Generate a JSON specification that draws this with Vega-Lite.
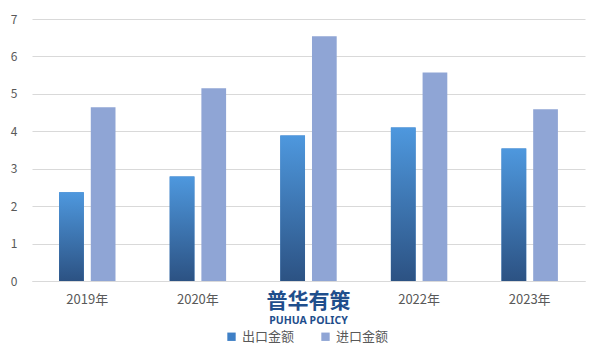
{
  "$schema": "https://vega.github.io/schema/vega-lite/v6.json",
  "autosize": {"type": "none"},
  "width": 553,
  "height": 262,
  "padding": {"left": 32, "top": 19, "right": 16, "bottom": 80},
  "background": "white",
  "datasets": {
    "trade": [
      {"year": "2019年", "series": "出口金额", "value": 2.37},
      {"year": "2019年", "series": "进口金额", "value": 4.64},
      {"year": "2020年", "series": "出口金额", "value": 2.79},
      {"year": "2020年", "series": "进口金额", "value": 5.15},
      {"year": "2021年", "series": "出口金额", "value": 3.89},
      {"year": "2021年", "series": "进口金额", "value": 6.54},
      {"year": "2022年", "series": "出口金额", "value": 4.10},
      {"year": "2022年", "series": "进口金额", "value": 5.57},
      {"year": "2023年", "series": "出口金额", "value": 3.54},
      {"year": "2023年", "series": "进口金额", "value": 4.59}
    ],
    "mark": [{"label": "watermark"}]
  },
  "config": {
    "view": {"stroke": null},
    "font": "Noto Sans CJK SC",
    "axis": {"labelFont": "Noto Sans CJK SC", "labelColor": "#595959", "labelFontSize": 12},
    "axisY": {"tickCount": 8, "labelOverlap": false}
  },
  "layer": [
    {
      "data": {"name": "trade"},
      "mark": {"type": "bar"},
      "encoding": {
        "x": {
          "field": "year", "type": "nominal", "sort": null,
          "scale": {"paddingInner": 0.49, "paddingOuter": 0.245},
          "axis": {
            "title": null, "labelAngle": 0, "ticks": false, "domainColor": "#D9D9D9",
            "labelPadding": 12, "labelFontSize": 13,
            "labelOpacity": {"condition": {"test": "datum.value === '2021年'", "value": 0}, "value": 1}
          }
        },
        "xOffset": {
          "field": "series", "type": "nominal", "sort": ["出口金额", "进口金额"],
          "scale": {"paddingInner": 0.22, "paddingOuter": 0}
        },
        "y": {
          "field": "value", "type": "quantitative",
          "scale": {"domain": [0, 7], "nice": false},
          "axis": {
            "title": null, "values": [0, 1, 2, 3, 4, 5, 6, 7], "tickCount": 8, "labelOverlap": false,
            "domain": false, "ticks": false, "gridColor": "#D9D9D9", "labelPadding": 15
          }
        },
        "color": {
          "field": "series", "type": "nominal",
          "scale": {"domain": ["出口金额", "进口金额"], "range": ["#3F80C6", "#8FA5D5"]},
          "legend": {
            "title": null, "orient": "none", "direction": "horizontal",
            "legendX": 193, "legendY": 311, "symbolType": "square", "symbolSize": 70,
            "labelFontSize": 13, "labelColor": "#595959", "labelFont": "Noto Sans CJK SC",
            "columnPadding": 24, "symbolStrokeWidth": 0
          }
        }
      }
    },
    {
      "data": {"name": "trade"},
      "transform": [{"filter": "datum.series === '出口金额'"}],
      "mark": {
        "type": "bar",
        "fill": {
          "gradient": "linear", "x1": 0, "y1": 0, "x2": 0, "y2": 1,
          "stops": [
            {"offset": 0, "color": "#4E98DE"},
            {"offset": 1, "color": "#2C5283"}
          ]
        }
      },
      "encoding": {
        "x": {"field": "year", "type": "nominal", "sort": null},
        "xOffset": {"field": "series", "type": "nominal", "sort": ["出口金额", "进口金额"]},
        "y": {
          "field": "value", "type": "quantitative",
          "axis": {
            "title": null, "values": [0, 1, 2, 3, 4, 5, 6, 7], "tickCount": 8, "labelOverlap": false,
            "domain": false, "ticks": false, "gridColor": "#D9D9D9", "labelPadding": 15
          }
        }
      }
    },
    {
      "data": {"name": "mark"},
      "mark": {"type": "text", "text": "普华有策", "fontSize": 21, "fontWeight": "bold", "color": "#1F4E8C", "dy": 21, "font": "Noto Sans CJK SC"},
      "encoding": {"x": {"datum": "2021年"}, "y": {"datum": 0}}
    },
    {
      "data": {"name": "mark"},
      "mark": {"type": "text", "text": "PUHUA POLICY", "fontSize": 10.5, "fontWeight": "bold", "color": "#1F4E8C", "dy": 40, "font": "Noto Sans"},
      "encoding": {"x": {"datum": "2021年"}, "y": {"datum": 0}}
    }
  ]
}
